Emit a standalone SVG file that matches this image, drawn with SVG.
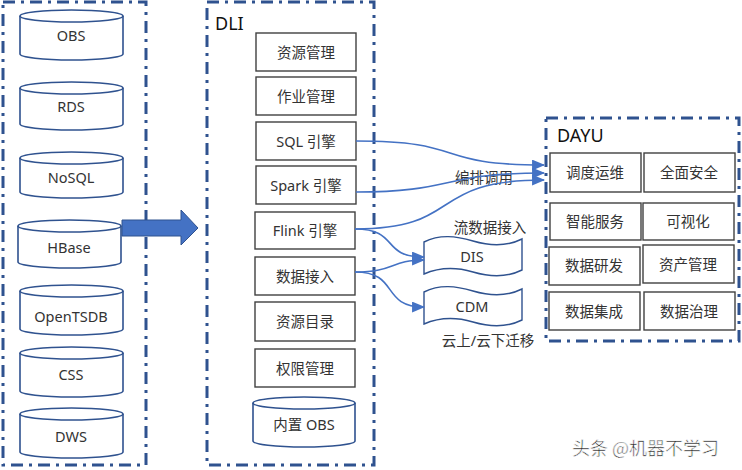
<svg xmlns="http://www.w3.org/2000/svg" width="742" height="470" viewBox="0 0 742 470">
<defs>
<style>
.frame{fill:none;stroke:#2F528F;stroke-width:3;stroke-dasharray:12 6 3 6}
.cyl{fill:#fff;stroke:#2F528F;stroke-width:1.6}
.box{fill:#fff;stroke:#404040;stroke-width:1.4}
.t{font-family:"Noto Sans","Noto Sans CJK SC",sans-serif;font-size:14.5px;fill:#333;text-anchor:middle;dominant-baseline:central}
.lbl{font-family:"Noto Sans","Noto Sans CJK SC",sans-serif;fill:#111;dominant-baseline:central}
.con{fill:none;stroke:#4472C4;stroke-width:1.6}
</style>
<marker id="ah2" viewBox="0 0 12 10" refX="11" refY="5" markerWidth="13" markerHeight="11" markerUnits="userSpaceOnUse" orient="auto">
<path d="M0,0 L12,5 L0,10 Z" fill="#4472C4"/>
</marker>
</defs>
<rect width="742" height="470" fill="#fff"/>

<g id="frames">
<rect class="frame" x="3" y="2" width="143" height="463"/>
<rect class="frame" x="207" y="2" width="167" height="463"/>
<rect class="frame" x="546" y="118" width="193" height="223"/>
<text class="lbl" x="215" y="23" font-size="18">DLI</text>
<text class="lbl" x="557" y="135" font-size="18">DAYU</text>
</g>

<g id="sources">
<g id="obs"><path class="cyl" d="M20,16 L20,54 A51.5,6 0 0 0 123,54 L123,16"/><ellipse class="cyl" cx="71.5" cy="16" rx="51.5" ry="6"/><text class="t" x="71" y="35">OBS</text></g>
<g id="rds"><path class="cyl" d="M20,88 L20,124 A51.5,6 0 0 0 123,124 L123,88"/><ellipse class="cyl" cx="71.5" cy="88" rx="51.5" ry="6"/><text class="t" x="71" y="106">RDS</text></g>
<g id="nosql"><path class="cyl" d="M20,158 L20,192 A51.5,6 0 0 0 123,192 L123,158"/><ellipse class="cyl" cx="71.5" cy="158" rx="51.5" ry="6"/><text class="t" x="71" y="177">NoSQL</text></g>
<g id="hbase"><path class="cyl" d="M18,226 L18,262 A51.5,6 0 0 0 121,262 L121,226"/><ellipse class="cyl" cx="69.5" cy="226" rx="51.5" ry="6"/><text class="t" x="69" y="247">HBase</text></g>
<g id="opentsdb"><path class="cyl" d="M20,291 L20,329 A51.5,6 0 0 0 123,329 L123,291"/><ellipse class="cyl" cx="71.5" cy="291" rx="51.5" ry="6"/><text class="t" x="71" y="316">OpenTSDB</text></g>
<g id="css"><path class="cyl" d="M20,353 L20,391 A51.5,6 0 0 0 123,391 L123,353"/><ellipse class="cyl" cx="71.5" cy="353" rx="51.5" ry="6"/><text class="t" x="71" y="374">CSS</text></g>
<g id="dws"><path class="cyl" d="M20,414 L20,452 A51.5,6 0 0 0 123,452 L123,414"/><ellipse class="cyl" cx="71.5" cy="414" rx="51.5" ry="6"/><text class="t" x="71" y="436">DWS</text></g>
</g>

<g id="big-arrow">
<path d="M122,220 L181,220 L181,210 L198,228 L181,245 L181,236 L122,236 Z" fill="#4472C4" stroke="#2F528F" stroke-width="1"/>
</g>

<g id="dli">
<g id="n-res"><rect class="box" x="256" y="33" width="100" height="38"/><text class="t" x="306" y="52">资源管理</text></g>
<g id="n-job"><rect class="box" x="256" y="77" width="100" height="38"/><text class="t" x="306" y="96">作业管理</text></g>
<g id="n-sql"><rect class="box" x="256" y="122" width="100" height="38"/><text class="t" x="306" y="141">SQL 引擎</text></g>
<g id="n-spark"><rect class="box" x="256" y="166" width="100" height="38"/><text class="t" x="306" y="185">Spark 引擎</text></g>
<g id="n-flink"><rect class="box" x="255" y="212" width="100" height="37"/><text class="t" x="305" y="230">Flink 引擎</text></g>
<g id="n-ingest"><rect class="box" x="255" y="257" width="100" height="38"/><text class="t" x="305" y="276">数据接入</text></g>
<g id="n-catalog"><rect class="box" x="255" y="302" width="100" height="39"/><text class="t" x="305" y="321">资源目录</text></g>
<g id="n-perm"><rect class="box" x="255" y="349" width="100" height="38"/><text class="t" x="305" y="368">权限管理</text></g>
<g id="n-inobs"><path class="cyl" d="M253,403 L253,441 A51,6 0 0 0 355,441 L355,403"/><ellipse class="cyl" cx="304" cy="403" rx="51" ry="6"/><text class="t" x="304" y="424">内置 OBS</text></g>
</g>

<g id="mid">
<g id="n-dis"><path class="box" style="stroke:#2F528F" d="M424,242 C440,234 456,236 473,241 C490,246 506,247 522,239 L522,270 C506,278 490,277 473,272 C456,267 440,267 424,274 Z"/><text class="t" x="472" y="256">DIS</text></g>
<g id="n-cdm"><path class="box" style="stroke:#2F528F" d="M424,292 C440,284 456,286 473,291 C490,296 506,297 522,289 L522,320 C506,328 490,327 473,322 C456,317 440,317 424,324 Z"/><text class="t" x="472" y="306">CDM</text></g>
<text class="t" x="490" y="227">流数据接入</text>
<text class="t" x="488" y="340">云上/云下迁移</text>
<text class="t" x="484" y="177">编排调用</text>
</g>

<g id="dayu">
<g id="d1"><rect class="box" x="550" y="153" width="91" height="39"/><text class="t" x="595" y="172">调度运维</text></g>
<g id="d2"><rect class="box" x="644" y="153" width="91" height="39"/><text class="t" x="689" y="172">全面安全</text></g>
<g id="d3"><rect class="box" x="550" y="203" width="91" height="37"/><text class="t" x="595" y="221">智能服务</text></g>
<g id="d4"><rect class="box" x="643" y="203" width="91" height="37"/><text class="t" x="688" y="221">可视化</text></g>
<g id="d5"><rect class="box" x="549" y="247" width="91" height="38"/><text class="t" x="594" y="265">数据研发</text></g>
<g id="d6"><rect class="box" x="643" y="245" width="91" height="38"/><text class="t" x="688" y="264">资产管理</text></g>
<g id="d7"><rect class="box" x="549" y="292" width="91" height="38"/><text class="t" x="594" y="311">数据集成</text></g>
<g id="d8"><rect class="box" x="644" y="292" width="91" height="38"/><text class="t" x="689" y="311">数据治理</text></g>
</g>

<g id="connectors">
<path class="con" marker-end="url(#ah2)" d="M356,141 C470,141 430,165 544,165"/>
<path class="con" marker-end="url(#ah2)" d="M356,192 C455,192 440,173 544,173"/>
<path class="con" marker-end="url(#ah2)" d="M355,229 C465,229 425,180 544,180"/>
<path class="con" marker-end="url(#ah2)" d="M355,229 C400,229 380,257 424,257"/>
<path class="con" marker-end="url(#ah2)" d="M355,272 C395,272 390,260 424,260"/>
<path class="con" marker-end="url(#ah2)" d="M355,272 C400,272 380,307 424,307"/>
</g>

<text x="572" y="447" font-family="Noto Sans CJK SC,sans-serif" font-size="18" fill="#222" stroke="#fff" stroke-width="0.6" dominant-baseline="central">头条 @机器不学习</text>
</svg>
